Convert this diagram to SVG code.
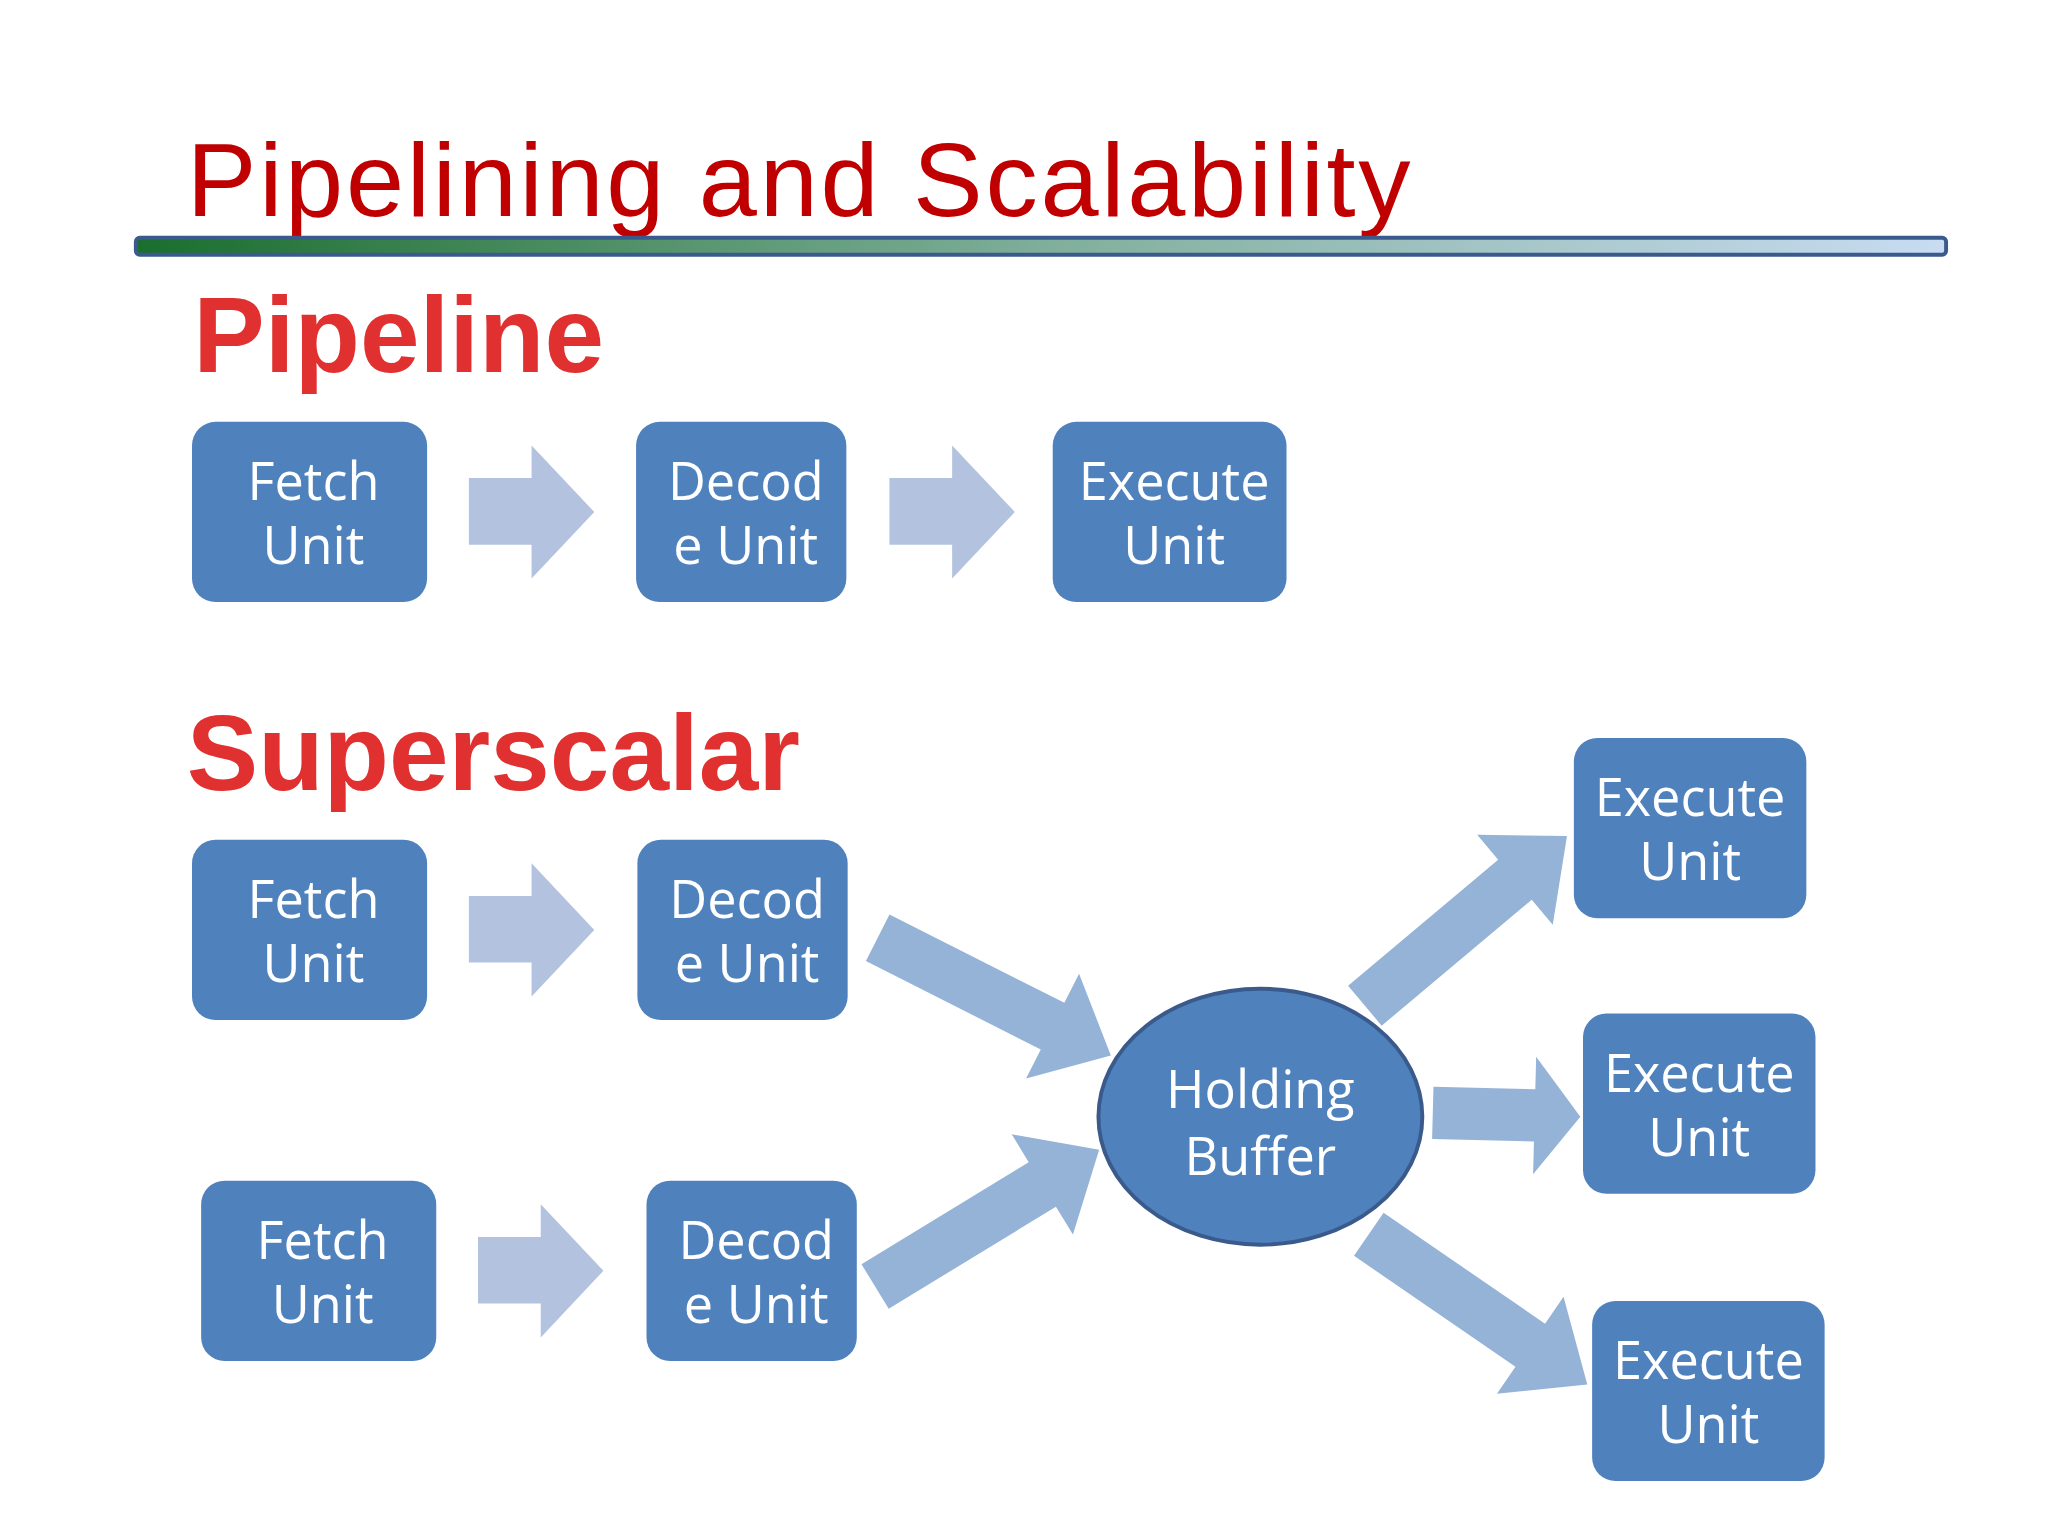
<svg xmlns="http://www.w3.org/2000/svg" width="2048" height="1536" viewBox="0 0 2048 1536">
<style>
.box{fill:#4F81BD;}
.bt{fill:#fff;font-family:"Open Sans","Liberation Sans",sans-serif;font-size:40px;text-anchor:middle;}
.la{fill:#B3C2DE;}
.da{fill:#95B3D7;}
.hd{fill:#E03030;font-family:"Liberation Sans",sans-serif;font-weight:bold;font-size:82px;}
</style>
<defs>
<linearGradient id="bar" x1="0" x2="1"><stop offset="0" stop-color="#1a6e2e"/><stop offset="0.5" stop-color="#7fae9a"/><stop offset="1" stop-color="#c8dcf2"/></linearGradient>
</defs>
<rect width="2048" height="1536" fill="#fff"/>
<g transform="scale(1.3061)">
<text x="143" y="165" fill="#C00000" font-family="Liberation Sans,sans-serif" font-size="80" textLength="937">Pipelining and Scalability</text>
<rect x="104" y="182" width="1386" height="13" rx="3" fill="url(#bar)" stroke="#3b5a8c" stroke-width="3"/>
<text class="hd" x="148" y="285">Pipeline</text>
<text class="hd" x="143" y="605">Superscalar</text>
<g id="connectors">
<polygon class="la" points="359,366 407,366 407,341 455,392 407,443 407,417 359,417"/>
<polygon class="la" points="681,366 729,366 729,341 777,392 729,443 729,417 681,417"/>
<polygon class="la" points="359,686 407,686 407,661 455,712 407,763 407,737 359,737"/>
<polygon class="la" points="366,947 414,947 414,922 462,973 414,1024 414,998 366,998"/>
<g class="da">
<polygon transform="translate(672,718) rotate(26.8)" points="0,-20 150,-20 150,-45 200,0 150,45 150,20 0,20"/>
<polygon transform="translate(670,985) rotate(-31.4)" points="0,-20 150,-20 150,-45 201,0 150,45 150,20 0,20"/>
<polygon transform="translate(1045,770) rotate(-40)" points="0,-20 150,-20 150,-45 202,0 150,45 150,20 0,20"/>
<polygon transform="translate(1097,852) rotate(1.5)" points="0,-20 78,-20 78,-45 113,0 78,45 78,20 0,20"/>
<polygon transform="translate(1048,945) rotate(34.5)" points="0,-20 150,-20 150,-45 203,0 150,45 150,20 0,20"/>
</g>
</g>
<g id="fetch1"><rect class="box" x="147" y="323" width="180" height="138" rx="18"/><text class="bt" x="240" y="383">Fetch</text><text class="bt" x="240" y="432">Unit</text></g>
<g id="decode1"><rect class="box" x="487" y="323" width="161" height="138" rx="18"/><text class="bt" x="571" y="383">Decod</text><text class="bt" x="571" y="432">e Unit</text></g>
<g id="execute1"><rect class="box" x="806" y="323" width="179" height="138" rx="18"/><text class="bt" x="899" y="383">Execute</text><text class="bt" x="899" y="432">Unit</text></g>
<g id="fetch2"><rect class="box" x="147" y="643" width="180" height="138" rx="18"/><text class="bt" x="240" y="703">Fetch</text><text class="bt" x="240" y="752">Unit</text></g>
<g id="decode2"><rect class="box" x="488" y="643" width="161" height="138" rx="18"/><text class="bt" x="572" y="703">Decod</text><text class="bt" x="572" y="752">e Unit</text></g>
<g id="fetch3"><rect class="box" x="154" y="904" width="180" height="138" rx="18"/><text class="bt" x="247" y="964">Fetch</text><text class="bt" x="247" y="1013">Unit</text></g>
<g id="decode3"><rect class="box" x="495" y="904" width="161" height="138" rx="18"/><text class="bt" x="579" y="964">Decod</text><text class="bt" x="579" y="1013">e Unit</text></g>
<g id="buffer"><ellipse cx="965" cy="855" rx="124" ry="98" fill="#4F81BD" stroke="#3b5a8c" stroke-width="3"/><text class="bt" x="965" y="848">Holding</text><text class="bt" x="965" y="900">Buffer</text></g>
<g id="exec2"><rect class="box" x="1205" y="565" width="178" height="138" rx="18"/><text class="bt" x="1294" y="625">Execute</text><text class="bt" x="1294" y="674">Unit</text></g>
<g id="exec3"><rect class="box" x="1212" y="776" width="178" height="138" rx="18"/><text class="bt" x="1301" y="836">Execute</text><text class="bt" x="1301" y="885">Unit</text></g>
<g id="exec4"><rect class="box" x="1219" y="996" width="178" height="138" rx="18"/><text class="bt" x="1308" y="1056">Execute</text><text class="bt" x="1308" y="1105">Unit</text></g>
</g>
</svg>
